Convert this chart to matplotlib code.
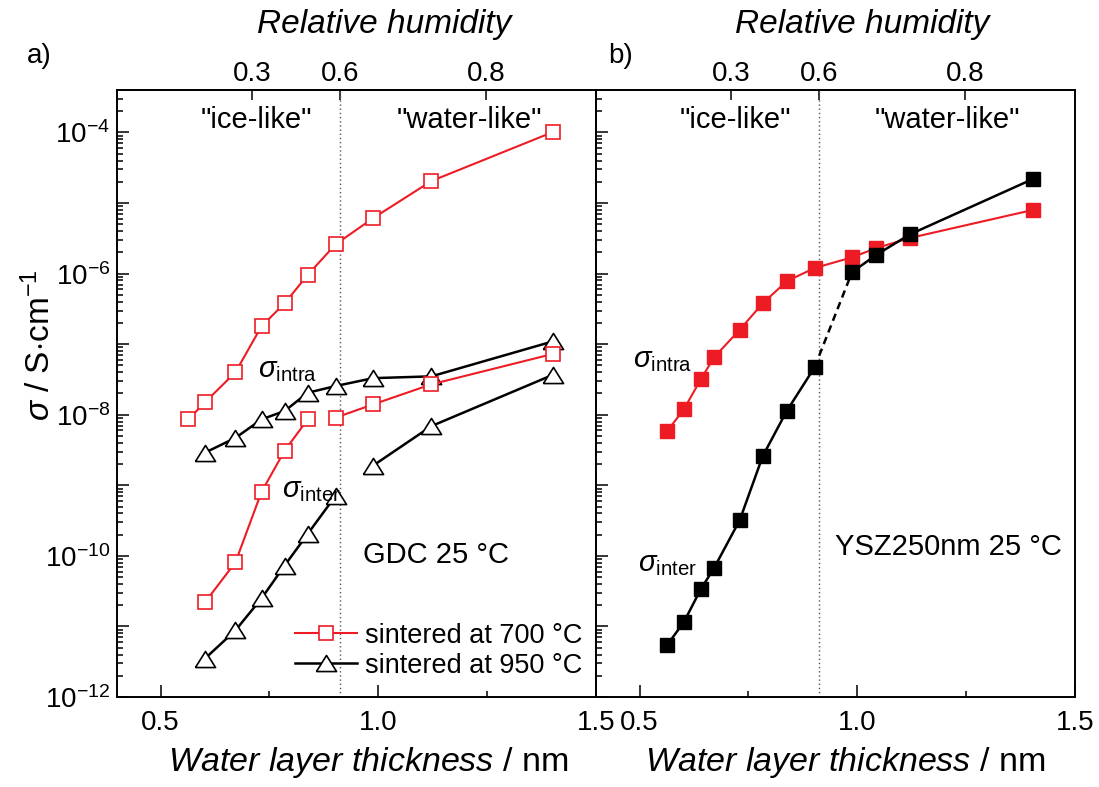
import matplotlib
matplotlib.use('Agg')
import matplotlib.pyplot as plt
import numpy as np
from matplotlib.ticker import (LogLocator, FuncFormatter, FixedLocator, MultipleLocator,
                               FormatStrFormatter, NullFormatter)
from matplotlib.lines import Line2D

plt.rcParams['font.family'] = ['Liberation Sans', 'DejaVu Sans']
plt.rcParams['mathtext.fontset'] = 'custom'
plt.rcParams['mathtext.rm'] = 'Liberation Sans'
plt.rcParams['mathtext.it'] = 'Liberation Sans:italic'
plt.rcParams['mathtext.bf'] = 'Liberation Sans:bold'
plt.rcParams['ytick.minor.visible'] = True

RED = '#ED1C24'

# ---- data (water layer thickness in nm, conductivity in S/cm) ----
# a) GDC, sintered at 700 C
gdc700_intra_x = [0.564, 0.602, 0.672, 0.732, 0.785, 0.838, 0.902, 0.988, 1.122, 1.402]
gdc700_intra_y = [8.6e-9, 1.5e-8, 4.0e-8, 1.8e-7, 3.8e-7, 9.6e-7, 2.6e-6, 6.1e-6, 2.05e-5, 1.02e-4]
gdc700_inter_ice_x = [0.602, 0.672, 0.732, 0.785, 0.838]
gdc700_inter_ice_y = [2.2e-11, 8.1e-11, 8.1e-10, 3.1e-9, 8.6e-9]
gdc700_inter_wat_x = [0.902, 0.988, 1.122, 1.402]
gdc700_inter_wat_y = [9.1e-9, 1.4e-8, 2.7e-8, 7.3e-8]

# a) GDC, sintered at 950 C
gdc950_intra_x = [0.602, 0.672, 0.732, 0.785, 0.838, 0.902, 0.988, 1.122, 1.402]
gdc950_intra_y = [2.9e-9, 4.7e-9, 8.6e-9, 1.13e-8, 2.05e-8, 2.55e-8, 3.3e-8, 3.5e-8, 1.1e-7]
gdc950_inter_ice_x = [0.602, 0.672, 0.732, 0.785, 0.838, 0.902]
gdc950_inter_ice_y = [3.5e-12, 8.8e-12, 2.5e-11, 7.3e-11, 2.05e-10, 7.1e-10]
gdc950_inter_wat_x = [0.988, 1.122, 1.402]
gdc950_inter_wat_y = [1.9e-9, 6.9e-9, 3.7e-8]

# b) YSZ 250 nm
ysz_x = [0.563, 0.602, 0.641, 0.671, 0.730, 0.783, 0.838, 0.902, 0.988, 1.044, 1.121, 1.404]
ysz_intra = [5.8e-9, 1.2e-8, 3.2e-8, 6.5e-8, 1.6e-7, 3.8e-7, 7.8e-7, 1.2e-6, 1.7e-6, 2.3e-6, 3.2e-6, 8.0e-6]
ysz_inter = [5.4e-12, 1.16e-11, 3.4e-11, 6.7e-11, 3.2e-10, 2.6e-9, 1.13e-8, 4.7e-8, 1.05e-6, 1.85e-6, 3.6e-6, 2.2e-5]
n_ice = 8  # points up to the ice-like / water-like boundary

# relative humidity axis (top): RH value -> water layer thickness
rh_labels = ['0.3', '0.6', '0.8']
rh_thickness = [0.711, 0.912, 1.247]
boundary = rh_thickness[1]

legend_labels = ['sintered at 700 \u00b0C', 'sintered at 950 \u00b0C']

# open triangle, wider than tall
tri = [(-1, -0.8), (1, -0.8), (0, 0.8), (-1, -0.8)]

fig = plt.figure(figsize=(10.99, 7.87), dpi=100)
bottom = 90 / 787
height = 607 / 787
ax_a = fig.add_axes([117 / 1099, bottom, 479 / 1099, height])
ax_b = fig.add_axes([596 / 1099, bottom, 479 / 1099, height])


def dec_fmt(v, pos):
    e = int(round(np.log10(v)))
    if e % 2 == 0:
        return r'$10^{%d}$' % e
    return ''


minor_locs = [m * 10.0 ** e for e in range(-13, -2) for m in range(2, 10)]

for ax in (ax_a, ax_b):
    ax.set_yscale('log')
    ax.set_xlim(0.4, 1.5)
    ax.set_ylim(1e-12, 4e-4)
    ax.yaxis.set_major_locator(LogLocator(base=10, numticks=30))
    ax.yaxis.set_minor_locator(FixedLocator(minor_locs))
    ax.yaxis.set_major_formatter(FuncFormatter(dec_fmt))
    ax.yaxis.set_minor_formatter(NullFormatter())
    ax.xaxis.set_major_locator(MultipleLocator(0.5))
    ax.xaxis.set_minor_locator(MultipleLocator(0.25))
    ax.xaxis.set_major_formatter(FormatStrFormatter('%.1f'))
    ax.tick_params(which='both', direction='in', width=1.1, labelsize=20,
                   top=False, right=False, left=True, bottom=True)
    ax.tick_params(which='major', length=8.5)
    ax.tick_params(which='minor', length=4.5)
    ax.tick_params(axis='x', pad=9)
    ax.tick_params(axis='y', pad=5)
    for s in ax.spines.values():
        s.set_linewidth(1.4)
    ax.axvline(boundary, color='#555555', lw=1, ls=(0, (1, 2)), zorder=1)
    ax.set_xlabel(r'$\mathit{Water\ layer\ thickness}$ / nm', fontsize=24.5, labelpad=7)

    # relative humidity scale on top
    top = ax.secondary_xaxis('top')
    top.set_xticks(rh_thickness, labels=rh_labels)
    top.xaxis.set_minor_locator(FixedLocator([]))
    top.tick_params(axis='x', direction='in', length=7.5, width=1.1, labelsize=20, pad=2)
    top.spines['top'].set_linewidth(1.4)

ax_b.tick_params(axis='y', which='both', labelleft=False)
ax_a.xaxis.label.set_x(0.525)
ax_b.xaxis.label.set_x(0.52)

# ---- panel a ----
mk_sq = dict(marker='s', ms=10.5, mfc='white', mec=RED, mew=1.2)
mk_tri = dict(marker=tri, ms=14.5, mfc='white', mec='black', mew=1.2)

ax_a.plot(gdc950_intra_x, gdc950_intra_y, color='black', lw=1.8, zorder=3, **mk_tri)
ax_a.plot(gdc950_inter_ice_x, gdc950_inter_ice_y, color='black', lw=1.8, zorder=3, **mk_tri)
ax_a.plot(gdc950_inter_wat_x, gdc950_inter_wat_y, color='black', lw=1.8, zorder=3, **mk_tri)
ax_a.plot(gdc700_intra_x, gdc700_intra_y, color=RED, lw=1.5, zorder=4, **mk_sq)
ax_a.plot(gdc700_inter_ice_x, gdc700_inter_ice_y, color=RED, lw=1.5, zorder=4, **mk_sq)
ax_a.plot(gdc700_inter_wat_x, gdc700_inter_wat_y, color=RED, lw=1.5, zorder=4, **mk_sq)

handles = [Line2D([], [], color=RED, lw=1.5, **mk_sq),
           Line2D([], [], color='black', lw=1.8, **mk_tri)]
ax_a.legend(handles, legend_labels, loc='lower right', bbox_to_anchor=(0.972, 0.03),
            frameon=False, fontsize=19.5, handlelength=2.3, handletextpad=0.3,
            labelspacing=0.15, borderpad=0, borderaxespad=0)

ax_a.text(0.290, 0.951, '"ice-like"', transform=ax_a.transAxes, ha='center', va='center', fontsize=21)
ax_a.text(0.735, 0.951, '"water-like"', transform=ax_a.transAxes, ha='center', va='center', fontsize=21)
ax_a.text(0.294, 0.539, r'$\sigma_{\mathrm{intra}}$', transform=ax_a.transAxes, ha='left', va='center', fontsize=21)
ax_a.text(0.344, 0.341, r'$\sigma_{\mathrm{inter}}$', transform=ax_a.transAxes, ha='left', va='center', fontsize=21)
ax_a.text(0.514, 0.234, 'GDC 25 \u00b0C', transform=ax_a.transAxes, ha='left', va='center', fontsize=21)

ax_a.set_ylabel(r'$\sigma$ / S$\cdot$cm$^{-1}$', fontsize=24)
ax_a.yaxis.set_label_coords(-0.125, 0.58)

# ---- panel b ----
mk_fsq = dict(marker='s', ms=10.5, mew=1.0)
ax_b.plot(ysz_x, ysz_intra, color=RED, lw=1.5, mfc=RED, mec=RED, zorder=3, **mk_fsq)
ax_b.plot(ysz_x[:n_ice], ysz_inter[:n_ice], color='black', lw=1.8, mfc='black', mec='black', zorder=4, **mk_fsq)
ax_b.plot(ysz_x[n_ice - 1:n_ice + 1], ysz_inter[n_ice - 1:n_ice + 1], color='black', lw=1.8, ls=(0, (3, 2)), zorder=2)
ax_b.plot(ysz_x[n_ice:], ysz_inter[n_ice:], color='black', lw=1.8, mfc='black', mec='black', zorder=4, **mk_fsq)

ax_b.text(0.290, 0.951, '"ice-like"', transform=ax_b.transAxes, ha='center', va='center', fontsize=21)
ax_b.text(0.733, 0.951, '"water-like"', transform=ax_b.transAxes, ha='center', va='center', fontsize=21)
ax_b.text(0.077, 0.555, r'$\sigma_{\mathrm{intra}}$', transform=ax_b.transAxes, ha='left', va='center', fontsize=21)
ax_b.text(0.088, 0.219, r'$\sigma_{\mathrm{inter}}$', transform=ax_b.transAxes, ha='left', va='center', fontsize=21)
ax_b.text(0.499, 0.247, 'YSZ250nm 25 \u00b0C', transform=ax_b.transAxes, ha='left', va='center', fontsize=21)

# top axis titles and panel letters
ax_a.text(0.557, 1.094, 'Relative humidity', transform=ax_a.transAxes, ha='center', va='baseline',
          fontsize=24, style='italic')
ax_b.text(0.555, 1.094, 'Relative humidity', transform=ax_b.transAxes, ha='center', va='baseline',
          fontsize=24, style='italic')
fig.text(27 / 1099, 1 - 63 / 787, 'a)', fontsize=20, va='baseline')
fig.text(608 / 1099, 1 - 63 / 787, 'b)', fontsize=20, va='baseline')

fig.canvas.draw()
for ax in (ax_a, ax_b):
    ax.yaxis.set_minor_locator(FixedLocator(minor_locs))
    ax.tick_params(axis='y', which='minor', direction='in', length=4.5, width=1.1,
                   left=True, right=False)

fig.savefig('out.png', dpi=100)
